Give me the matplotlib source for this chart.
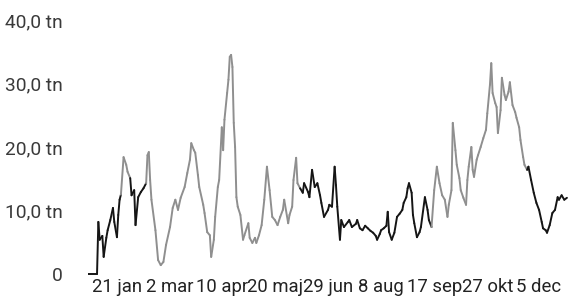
import numpy as np
import pandas as pd
import matplotlib
matplotlib.use("Agg")
import matplotlib.pyplot as plt

# days after 1 jan 2021, and values in thousands (tn)
days = [-2, 5, 6, 7, 9, 10, 12, 13, 15, 17, 18, 20, 21, 22, 23, 25, 27, 28, 30, 31,
        33, 34, 36, 38, 40, 42, 43, 44, 45, 46, 49, 51, 53, 55, 57, 60, 62, 64, 66, 68,
        71, 73, 75, 76, 78, 79, 81, 82, 85, 86, 88, 90, 91, 93, 94, 96, 97, 99, 100, 101,
        103, 104, 105, 106, 107, 108, 109, 110, 111, 113, 115, 116, 119, 120, 122, 124, 125, 127, 129, 131,
        133, 135, 137, 139, 141, 143, 145, 146, 149, 150, 152, 153, 155, 156, 158, 160, 161, 164, 165, 167,
        169, 171, 173, 174, 176, 179, 180, 182, 184, 185, 186, 188, 189, 191, 194, 195, 197, 200, 201, 203,
        205, 207, 209, 211, 213, 215, 216, 218, 219, 221, 223, 224, 225, 227, 229, 231, 233, 235, 236, 238,
        239, 240, 242, 243, 244, 246, 248, 249, 252, 254, 255, 257, 259, 261, 263, 265, 267, 269, 270, 272,
        273, 275, 276, 278, 279, 281, 283, 284, 285, 287, 288, 289, 291, 292, 294, 296, 298, 299, 301, 302,
        303, 305, 306, 307, 309, 310, 312, 313, 315, 316, 318, 320, 321, 323, 324, 326, 327, 329, 330, 332,
        334, 336, 338, 340, 341, 343, 344, 346, 348, 350, 352, 353, 355, 357, 359]
values = [0, 0, 8.2, 5.4, 6.0, 2.7, 5.7, 6.9, 8.5, 10.4, 8.2, 5.8, 9.3, 11.7, 12.5, 18.4, 17.2, 16.1, 15.1, 12.4,
          13.2, 7.7, 12.1, 12.9, 13.5, 14.3, 18.7, 19.2, 14.8, 11.7, 6.9, 2.2, 1.4, 1.9, 4.6, 7.4, 10.4, 11.7, 10.1, 12.0,
          13.7, 15.9, 18.0, 20.6, 19.5, 19.1, 15.6, 13.7, 10.9, 9.6, 6.6, 6.1, 2.7, 5.4, 9.0, 13.7, 14.8, 23.1, 19.5, 24.3,
          28.5, 30.6, 34.2, 34.5, 32.6, 23.8, 20.0, 12.1, 10.6, 9.3, 5.4, 6.1, 8.0, 5.7, 4.9, 5.7, 4.9, 6.1, 7.7, 11.7,
          16.9, 13.2, 9.0, 8.5, 7.7, 9.0, 10.1, 11.7, 8.0, 9.3, 10.6, 14.8, 18.3, 14.3, 13.5, 12.8, 14.3, 12.9, 12.1, 16.4,
          13.7, 14.3, 12.4, 11.2, 9.0, 10.1, 10.9, 10.6, 16.9, 14.0, 10.6, 5.4, 8.5, 7.4, 8.2, 8.5, 7.4, 7.9, 8.5, 7.2,
          6.9, 7.6, 7.2, 6.8, 6.5, 6.0, 5.4, 6.3, 6.9, 7.2, 7.6, 9.8, 6.6, 5.4, 6.5, 9.0, 9.5, 10.1, 11.2, 12.1,
          13.5, 14.3, 12.8, 9.3, 8.0, 5.8, 6.6, 7.4, 12.1, 10.1, 8.5, 7.4, 13.2, 16.9, 14.3, 12.4, 11.7, 9.0, 10.9, 13.2,
          23.8, 19.5, 17.2, 15.1, 13.2, 12.0, 10.9, 14.8, 16.9, 20.0, 16.4, 15.3, 18.0, 18.7, 20.0, 21.4, 22.7, 25.3, 29.8, 33.2,
          28.5, 26.9, 26.3, 22.2, 25.8, 30.9, 28.2, 27.4, 28.7, 30.2, 26.6, 25.5, 24.6, 23.1, 21.1, 18.4, 17.2, 16.4, 16.9, 14.8,
          12.8, 11.2, 10.1, 8.2, 7.2, 6.9, 6.5, 7.7, 9.6, 10.1, 12.1, 11.7, 12.4, 11.7, 12.0]

tick_dates = ["2021-01-21", "2021-03-02", "2021-04-10", "2021-05-20", "2021-06-29",
              "2021-08-08", "2021-09-17", "2021-10-27", "2021-12-05"]
tick_labels = ["21 jan", "2 mar", "10 apr", "20 maj", "29 jun",
               "8 aug", "17 sep", "27 okt", "5 dec"]
y_ticks = [0, 10, 20, 30, 40]
y_labels = ["0", "10,0 tn", "20,0 tn", "30,0 tn", "40,0 tn"]

start = pd.Timestamp("2021-01-01")
dates = start + pd.to_timedelta(days, unit="D")
days_arr = np.array(days)
vals = np.array(values)

# the scan shows some stretches faded to grey
grey_spans = [(23, 30), (42, 158), (256, 328)]

plt.rcParams["font.family"] = ["Roboto", "DejaVu Sans"]
fig = plt.figure(figsize=(5.68, 3.0), dpi=100)
ax = fig.add_axes([88 / 568, 0.076, 480 / 568, 0.8785])

def colour_of(d):
    for a, b in grey_spans:
        if a <= d < b:
            return "#8f8f8f"
    return "#151515"

# draw piece by piece so each part gets its tone
for i in range(len(days) - 1):
    ax.plot(dates[i:i + 2], vals[i:i + 2], color=colour_of(days_arr[i]),
            lw=1.4, solid_capstyle="round")

ax.set_xlim(start + pd.Timedelta(days=-1.8), start + pd.Timedelta(days=359.8))
ax.set_ylim(-0.5, 41)

ax.set_xticks(pd.to_datetime(tick_dates))
ax.set_xticklabels(tick_labels, fontsize=13.3, color="#222222")
ax.set_yticks(y_ticks)
ax.set_yticklabels(y_labels, fontsize=13.8, color="#3a3a3a")
ax.tick_params(axis="x", length=0, pad=0.5)
ax.tick_params(axis="y", length=0, pad=18)
for s in ax.spines.values():
    s.set_visible(False)

fig.savefig("out.png", dpi=100)
